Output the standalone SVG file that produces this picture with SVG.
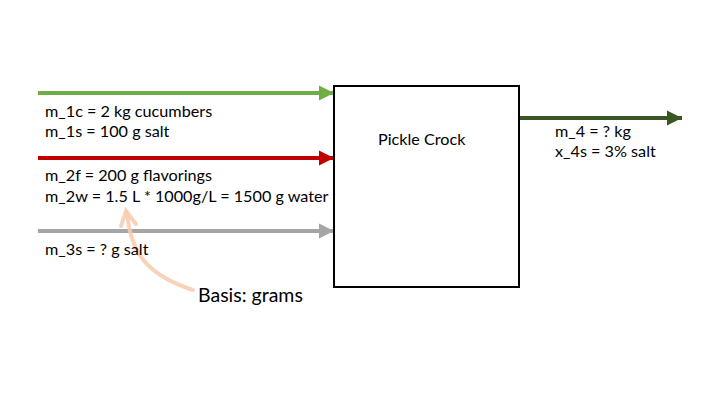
<svg xmlns="http://www.w3.org/2000/svg" width="720" height="405" viewBox="0 0 720 405">
  <style>
    text { font-family: Lato, "Open Sans", "Liberation Sans", sans-serif; fill: #000; }
    .lbl { font-size: 16.2px; }
    .flow { stroke-width: 4; fill: none; }
  </style>
  <defs>
    <marker id="ahGreen" markerUnits="userSpaceOnUse" markerWidth="16" markerHeight="16" viewBox="0 0 16 16" refX="15" refY="8" orient="auto">
      <path d="M0,0.5 L15,8 L0,15.5 Z" fill="#70AD47"/>
    </marker>
    <marker id="ahRed" markerUnits="userSpaceOnUse" markerWidth="16" markerHeight="16" viewBox="0 0 16 16" refX="15" refY="8" orient="auto">
      <path d="M0,0.5 L15,8 L0,15.5 Z" fill="#C00000"/>
    </marker>
    <marker id="ahGray" markerUnits="userSpaceOnUse" markerWidth="16" markerHeight="16" viewBox="0 0 16 16" refX="15" refY="8" orient="auto">
      <path d="M0,0.5 L15,8 L0,15.5 Z" fill="#A5A5A5"/>
    </marker>
    <marker id="ahDark" markerUnits="userSpaceOnUse" markerWidth="16" markerHeight="16" viewBox="0 0 16 16" refX="15" refY="8" orient="auto">
      <path d="M0,0.5 L15,8 L0,15.5 Z" fill="#385723"/>
    </marker>
  </defs>

  <g id="connectors">
    <path class="flow" d="M38,93 H334" stroke="#70AD47" marker-end="url(#ahGreen)"/>
    <path class="flow" d="M38,158 H334" stroke="#C00000" marker-end="url(#ahRed)"/>
    <path class="flow" d="M38,231 H334" stroke="#A5A5A5" marker-end="url(#ahGray)"/>
    <path class="flow" d="M519,118 H682" stroke="#385723" marker-end="url(#ahDark)"/>
    <g id="basis-pointer" stroke="#F8CBAD" stroke-opacity="0.85" stroke-width="4" fill="none" stroke-linecap="round">
      <path d="M193,290 C150,276 130,255 127,212"/>
      <path d="M121,226 L126,211 L136,224"/>
    </g>
  </g>

  <g id="crock">
    <rect x="334" y="86" width="185" height="201" fill="#FFFFFF" stroke="#000" stroke-width="2"/>
    <text class="lbl" x="378" y="145">Pickle Crock</text>
  </g>

  <g id="stream1">
    <text class="lbl" x="45" y="117">m_1c = 2 kg cucumbers</text>
    <text class="lbl" x="45" y="137">m_1s = 100 g salt</text>
  </g>
  <g id="stream2">
    <text class="lbl" x="45" y="181">m_2f = 200 g flavorings</text>
    <text class="lbl" x="45" y="202">m_2w = 1.5 L * 1000g/L = 1500 g water</text>
  </g>
  <g id="stream3">
    <text class="lbl" x="45" y="255">m_3s = ? g salt</text>
  </g>
  <g id="stream4">
    <text class="lbl" x="555" y="137">m_4 = ? kg</text>
    <text class="lbl" x="555" y="157">x_4s = 3% salt</text>
  </g>
  <g id="basis">
    <text x="198" y="302" font-size="19.5">Basis: grams</text>
  </g>
</svg>
